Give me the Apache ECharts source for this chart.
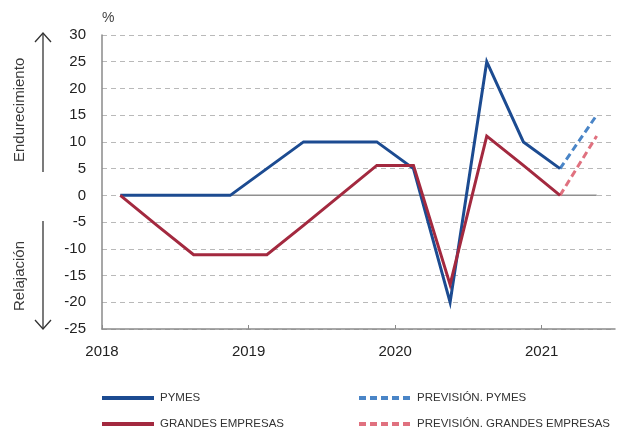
<!DOCTYPE html>
<html>
<head>
<meta charset="utf-8">
<script src="https://cdn.jsdelivr.net/npm/echarts@6/dist/echarts.min.js"></script>
<style>
  html, body { margin: 0; padding: 0; background: #fff; }
  #chart { width: 622px; height: 430px; }
</style>
</head>
<body>
<div id="chart"></div>
<script>
// Survey periods (quarters) and net percentage of tightening
const periods = ['2018T1', '2018T2', '2018T3', '2018T4', '2019T1', '2019T2', '2019T3',
  '2019T4', '2020T1', '2020T2', '2020T3', '2020T4', '2021T1'];
const pymes = [0, 0, 0, 0, 5, 10, 10, 10, 5, -20, 25, 10, 5];
const grandes = [0, -5.6, -11.1, -11.1, -11.1, -5.6, 0, 5.6, 5.6, -16.7, 11.1, 5.6, 0];

// Forecast for next quarter, starting from the last observed value
const forecastPeriods = ['2021T1', '2021T2'];
const prevPymes = [5, 15];
const prevGrandes = [0, 11.1];

const yearTicks = [2018, 2019, 2020, 2021];
const yTicks = [-25, 30, 5]; // min, max, step

const NAMES = {
  pymes: 'PYMES',
  grandes: 'GRANDES EMPRESAS',
  prevPymes: 'PREVISIÓN. PYMES',
  prevGrandes: 'PREVISIÓN. GRANDES EMPRESAS'
};

// Quarter label -> position on a continuous year axis (quarter midpoint)
function toX(p) {
  const y = parseInt(p.slice(0, 4), 10);
  const q = parseInt(p.slice(5), 10);
  return y + (q - 0.5) / 4;
}
const pair = (ps, vs) => ps.map((p, i) => [toX(p), vs[i]]);

const xFirst = toX(periods[0]);
const xLast = toX(forecastPeriods[forecastPeriods.length - 1]);

const BLUE = '#1c4b91';
const RED = '#a3293f';
const LBLUE = '#4a85c7';
const PINK = '#e0717f';
const AXIS = '#8a8a8a';
const TXT = '#222';
const FONT = '"Liberation Sans", Arial, sans-serif';

const chart = echarts.init(document.getElementById('chart'), null, { renderer: 'canvas' });

const lineSeries = (name, data, color, dashed, z) => ({
  name, type: 'line', data, symbol: 'none', z,
  lineStyle: { color, width: 3, type: dashed ? [7, 4] : 'solid', cap: 'butt', join: 'miter' },
  itemStyle: { color },
  emphasis: { disabled: true },
  animation: false
});

const legendBase = {
  top: 392, orient: 'vertical', itemGap: 14, padding: 0,
  itemWidth: 52, itemHeight: 12,
  itemStyle: { opacity: 0 },
  lineStyle: { width: 4 },
  textStyle: { color: '#333', fontFamily: FONT, fontSize: 11.5, padding: [0, 0, 0, 1] },
  selectedMode: false
};

chart.setOption({
  animation: false,
  grid: { left: 102, top: 35, right: 7, bottom: 101, containLabel: false },
  xAxis: {
    type: 'value', min: yearTicks[0], max: 2021.5, interval: 1,
    axisLine: { onZero: false, lineStyle: { color: AXIS, width: 1.5 } },
    axisTick: { show: true, inside: true, length: 4, lineStyle: { color: AXIS } },
    axisLabel: {
      color: TXT, fontFamily: FONT, fontSize: 15, margin: 15, showMaxLabel: false,
      formatter: v => (yearTicks.includes(v) ? String(v) : '')
    },
    splitLine: { show: false }
  },
  yAxis: {
    type: 'value', min: yTicks[0], max: yTicks[1], interval: yTicks[2],
    name: '%', nameLocation: 'end', nameGap: 10,
    nameTextStyle: { color: '#444', fontFamily: FONT, fontSize: 14, align: 'left' },
    axisLine: { show: true, lineStyle: { color: AXIS, width: 1.5 } },
    axisTick: { show: false },
    axisLabel: { color: TXT, fontFamily: FONT, fontSize: 15, margin: 16 },
    splitLine: { show: true, lineStyle: { color: '#b9b9b9', type: [5, 4], width: 1.2 } }
  },
  legend: [
    Object.assign({}, legendBase, { left: 100, data: [NAMES.pymes, NAMES.grandes] }),
    Object.assign({}, legendBase, { left: 357, data: [NAMES.prevPymes, NAMES.prevGrandes] })
  ],
  graphic: [
    {
      type: 'text',
      style: { text: 'Endurecimiento', fill: '#3a3a3a', font: '15px ' + FONT },
      rotation: Math.PI / 2, x: 12, y: 162
    },
    {
      type: 'text',
      style: { text: 'Relajación', fill: '#3a3a3a', font: '15px ' + FONT },
      rotation: Math.PI / 2, x: 12, y: 311
    },
    { type: 'line', shape: { x1: 43, y1: 172, x2: 43, y2: 33 }, style: { stroke: '#333', lineWidth: 1.3 } },
    { type: 'polyline', shape: { points: [[35, 42], [43, 33], [51, 42]] }, style: { stroke: '#333', lineWidth: 1.3, fill: null } },
    { type: 'line', shape: { x1: 43, y1: 221, x2: 43, y2: 329 }, style: { stroke: '#333', lineWidth: 1.3 } },
    { type: 'polyline', shape: { points: [[35, 320], [43, 329], [51, 320]] }, style: { stroke: '#333', lineWidth: 1.3, fill: null } }
  ],
  series: [
    {
      name: 'cero', type: 'line', symbol: 'none', z: 1, silent: true,
      data: [[xFirst, 0], [xLast, 0]],
      lineStyle: { color: '#8f8f8f', width: 1.5 }, animation: false
    },
    lineSeries(NAMES.prevPymes, pair(forecastPeriods, prevPymes), LBLUE, true, 2),
    lineSeries(NAMES.prevGrandes, pair(forecastPeriods, prevGrandes), PINK, true, 2),
    lineSeries(NAMES.pymes, pair(periods, pymes), BLUE, false, 3),
    lineSeries(NAMES.grandes, pair(periods, grandes), RED, false, 4)
  ]
});
</script>
</body>
</html>
